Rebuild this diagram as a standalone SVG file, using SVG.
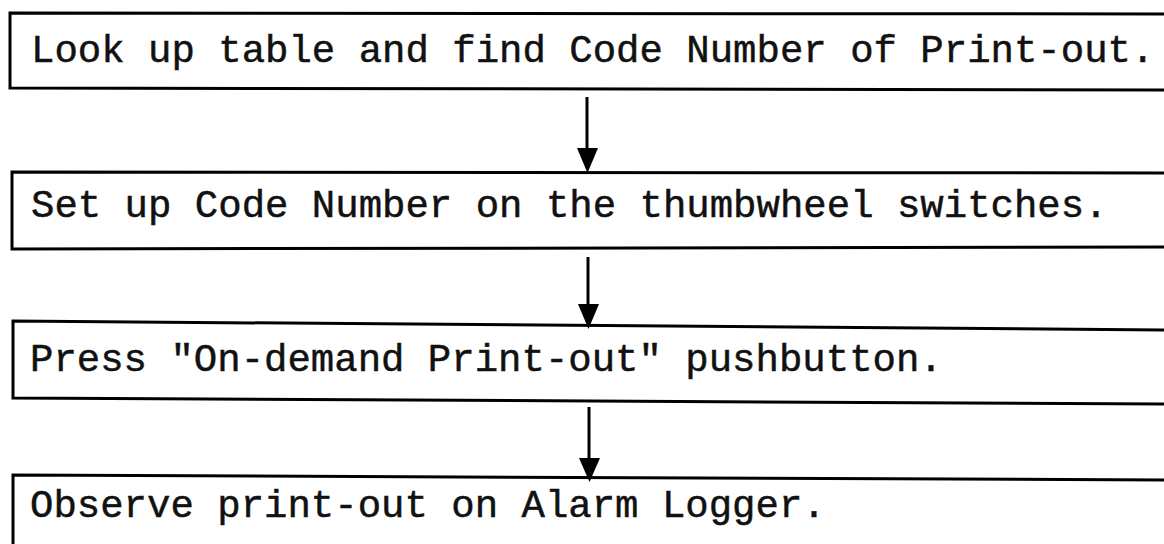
<svg xmlns="http://www.w3.org/2000/svg" width="1164" height="544" viewBox="0 0 1164 544">
<style>
.box{fill:none;stroke:#000;stroke-width:3;stroke-linejoin:miter}
.lbl{font-family:"Liberation Mono","Courier New",monospace;font-size:39px;fill:#111;stroke:#111;stroke-width:0.5}
.conn{stroke:#000;stroke-width:3;fill:none}
</style>
<defs>
<marker id="ah" markerUnits="userSpaceOnUse" markerWidth="22" markerHeight="26" viewBox="0 0 22 26" refX="11" refY="25" orient="auto-start-reverse">
<path d="M0,0 L22,0 L11,26 Z" fill="#000"/>
</marker>
</defs>
<rect width="1164" height="544" fill="#fff"/>
<g id="node1">
<path class="box" d="M1170,14 L10,13 L10,88 L1170,90"/>
<text class="lbl" x="31" y="62">Look up table and find Code Number of Print-out.</text>
</g>
<g id="node2">
<path class="box" d="M1170,173 L12,172 L12,249 L1170,247"/>
<text class="lbl" x="31" y="217">Set up Code Number on the thumbwheel switches.</text>
</g>
<g id="node3">
<path class="box" d="M1170,330 L13,321 L13,398 L1170,404"/>
<text class="lbl" x="30" y="371">Press "On-demand Print-out" pushbutton.</text>
</g>
<g id="node4">
<path class="box" d="M1170,480 L13,475 L13,548"/>
<text class="lbl" x="30" y="517">Observe print-out on Alarm Logger.</text>
</g>
<g id="connectors">
<line class="conn" x1="587" y1="97" x2="587" y2="150"/>
<path d="M577,148 L598,148 L587.5,173 Z" fill="#000"/>
<line class="conn" x1="588" y1="257" x2="588" y2="306"/>
<path d="M578,304 L599,304 L588.5,329 Z" fill="#000"/>
<line class="conn" x1="589" y1="407" x2="589" y2="460"/>
<path d="M579,458 L600,458 L589.5,482 Z" fill="#000"/>
</g>
</svg>
